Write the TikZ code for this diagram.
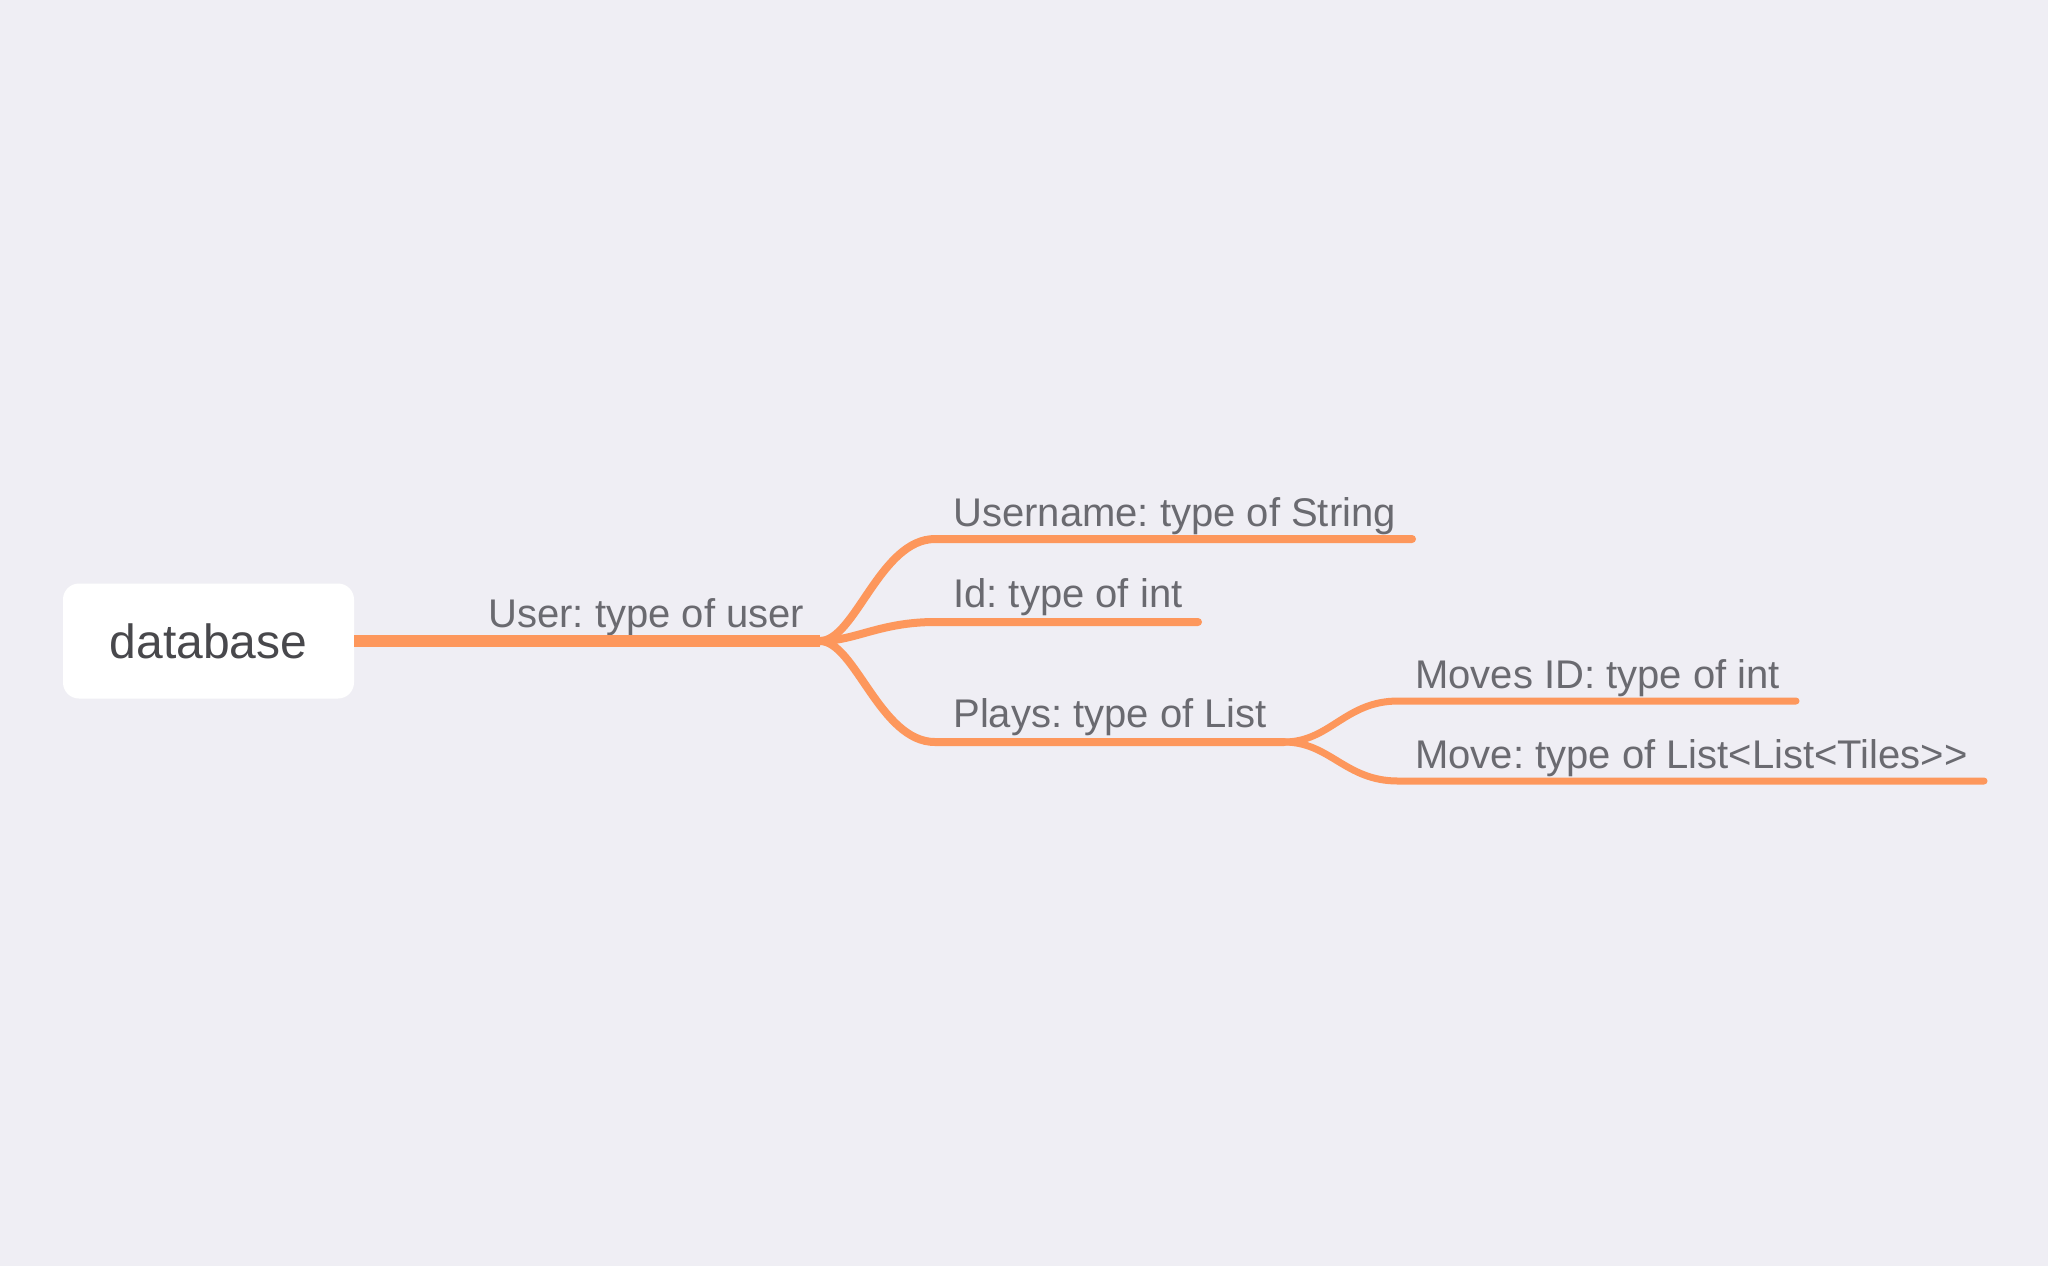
\documentclass[tikz,border=0pt]{standalone}
\usepackage{fontspec}
\setmainfont{Liberation Sans}
\frenchspacing
\definecolor{bgc}{RGB}{239,238,244}
\definecolor{branch}{RGB}{253,151,92}
\definecolor{labeltext}{RGB}{106,106,112}
\definecolor{roottext}{RGB}{72,72,76}
\begin{document}
\frenchspacing
\begin{tikzpicture}[x=0.5pt,y=-0.5pt,
  rootbox/.style={draw=none,fill=white,rounded corners=8pt,minimum width=145.5pt,minimum height=57.5pt,inner sep=0pt,text=roottext,font=\fontsize{24pt}{28pt}\selectfont},
  lbl/.style={anchor=base west,inner sep=0pt,text=labeltext,font=\fontsize{20pt}{24pt}\selectfont},
  lvlone/.style={draw=branch,line width=5.6pt,line cap=butt},
  lvltwo/.style={draw=branch,line width=4pt,line cap=round},
  lvlthree/.style={draw=branch,line width=3.5pt,line cap=round}]
\fill[bgc] (0,0) rectangle (2048,1266);
\useasboundingbox (0,0) rectangle (2048,1266);

% root
\node[rootbox] (db) at (208.5,641) {database};

% junctions and underline ends
\coordinate (uj) at (820,641);
\coordinate (una) at (935,539);
\coordinate (unb) at (1412,539);
\coordinate (ida) at (935,622);
\coordinate (idb) at (1198,622);
\coordinate (pla) at (935,742);
\coordinate (plb) at (1284,742);
\coordinate (mia) at (1398,701);
\coordinate (mib) at (1796,701);
\coordinate (mva) at (1398,781);
\coordinate (mvb) at (1984,781);

% labels
\node[lbl] (user) at (488,627) {User: type of user};
\node[lbl] (uname) at (953,526) {Username: type of String};
\node[lbl] (idl) at (953,607) {Id: type of int};
\node[lbl] (plays) at (953,727) {Plays: type of List};
\node[lbl] (movesid) at (1415,688) {Moves ID: type of int};
\node[lbl] (move) at (1415,768) {Move: type of List<List<Tiles>{}>};

% connectors
\draw[lvlone] (db.east) -- (uj);
\draw[lvltwo] (uj) .. controls (855,641) and (880,539) .. (una) -- (unb);
\draw[lvltwo] (uj) .. controls (855,641) and (880,622) .. (ida) -- (idb);
\draw[lvltwo] (uj) .. controls (855,641) and (880,742) .. (pla) -- (plb);
\draw[lvlthree] (plb) .. controls (1330,742) and (1345,701) .. (mia) -- (mib);
\draw[lvlthree] (plb) .. controls (1330,742) and (1345,781) .. (mva) -- (mvb);
\end{tikzpicture}
\end{document}
